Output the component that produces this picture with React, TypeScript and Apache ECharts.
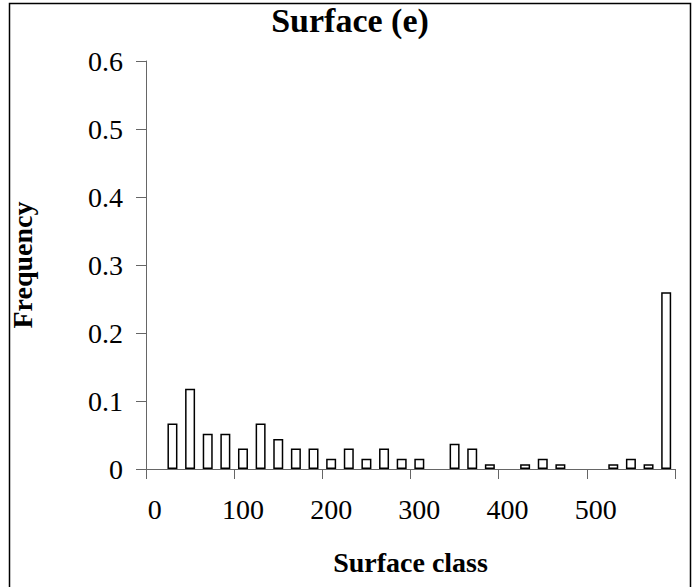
import React, { useEffect, useRef } from "react";
import * as echarts from "echarts";

const surfaceClasses: string[] = [
  "0", "20", "40", "60", "80", "100", "120", "140", "160", "180",
  "200", "220", "240", "260", "280", "300", "320", "340", "360", "380",
  "400", "420", "440", "460", "480", "500", "520", "540", "560", "580",
];

const frequencies: (number | null)[] = [
  null, 0.067, 0.118, 0.052, 0.052, 0.03, 0.067, 0.044, 0.03, 0.03,
  0.015, 0.03, 0.015, 0.03, 0.015, 0.015, null, 0.037, 0.03, 0.007,
  null, 0.007, 0.015, 0.007, null, null, 0.007, 0.015, 0.007, 0.26,
];

const titleText = "Surface (e)";
const xAxisTitle = "Surface class";
const yAxisTitle = "Frequency";

const FONT = "'Liberation Serif', 'Times New Roman', serif";

export default function App() {
  const ref = useRef<HTMLDivElement>(null);
  useEffect(() => {
    if (!ref.current) return;
    const chart = echarts.init(ref.current, null, { renderer: "svg" });
    chart.setOption({
      animation: false,
      backgroundColor: "#ffffff",
      title: {
        text: titleText,
        left: "center",
        top: -2,
        textStyle: { fontFamily: FONT, fontWeight: "bold", fontSize: 34, color: "#000" },
      },
      grid: { left: 137, right: 25, top: 61, bottom: 118, containLabel: false },
      xAxis: {
        type: "category",
        data: surfaceClasses,
        boundaryGap: true,
        name: xAxisTitle,
        nameLocation: "middle",
        nameGap: 79,
        nameTextStyle: { fontFamily: FONT, fontWeight: "bold", fontSize: 28, color: "#000" },
        axisLine: { show: true, lineStyle: { color: "#666", width: 1 } },
        axisTick: { show: true, interval: 4, length: 10, inside: false, alignWithLabel: false, lineStyle: { color: "#666" } },
        axisLabel: { interval: 4, margin: 26, fontFamily: FONT, fontSize: 28, color: "#000" },
        splitLine: { show: false },
      },
      yAxis: {
        type: "value",
        min: 0,
        max: 0.6,
        interval: 0.1,
        name: yAxisTitle,
        nameLocation: "middle",
        nameGap: 110,
        nameRotate: 90,
        nameTextStyle: { fontFamily: FONT, fontWeight: "bold", fontSize: 28, color: "#000" },
        axisLine: { show: true, lineStyle: { color: "#666", width: 1 } },
        axisTick: { show: true, length: 10, inside: false, lineStyle: { color: "#666" } },
        axisLabel: { margin: 23, fontFamily: FONT, fontSize: 28, color: "#000" },
        splitLine: { show: false },
      },
      series: [
        {
          type: "bar",
          data: frequencies,
          barWidth: 10,
          itemStyle: { color: "#ffffff", borderColor: "#000000", borderWidth: 1.5 },
        },
      ],
      graphic: [
        {
          type: "rect",
          shape: { x: 9.5, y: 3.5, width: 681, height: 600 },
          style: { fill: "none", stroke: "#000", lineWidth: 1.5 },
          silent: true,
          z: 100,
        },
      ],
    });
    return () => chart.dispose();
  }, []);
  return (
    <div
      ref={ref}
      style={{ position: "fixed", left: 0, top: 0, width: 700, height: 587 }}
    />
  );
}
